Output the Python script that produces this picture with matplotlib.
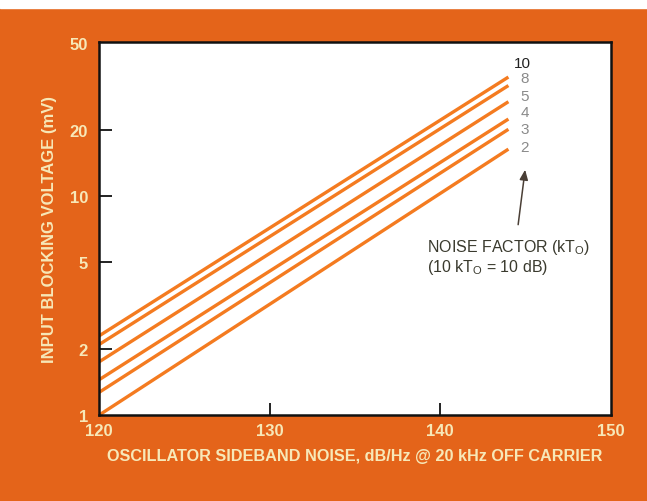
import numpy as np
import matplotlib
matplotlib.use("Agg")
import matplotlib.pyplot as plt

# noise factor curves: blocking voltage (mV) at the two ends of each line
noise_factor = ["10", "8", "5", "4", "3", "2"]
noise_db = [120, 144]
v_start = [2.3, 2.1, 1.75, 1.45, 1.27, 1.0]
v_end = [35.0, 32.0, 27.0, 22.5, 20.2, 16.4]

xticks = [120, 130, 140, 150]
yticks = [1, 2, 5, 10, 20, 50]

orange = "#e4641a"
line_col = "#f47b20"
cream = "#f7e8b8"

plt.rcParams["font.family"] = ["Liberation Sans", "DejaVu Sans"]
plt.rcParams["mathtext.fontset"] = "custom"
plt.rcParams["mathtext.rm"] = "Liberation Sans"

fig = plt.figure(figsize=(6.47, 5.02), dpi=100)
fig.patch.set_facecolor(orange)
# thin white strip along the top edge
fig.patches.append(plt.Rectangle((0, 0.983), 1, 0.017, transform=fig.transFigure,
                                 color="white", zorder=0))

ax = fig.add_axes([0.153, 0.171, 0.791, 0.743])
ax.set_facecolor("white")
ax.set_yscale("log")
ax.set_xlim(120, 150)
ax.set_ylim(1, 50.5)

for a, b in zip(v_start, v_end):
    ax.plot(noise_db, [a, b], color=line_col, lw=2.4, solid_capstyle="butt")

for sp in ax.spines.values():
    sp.set_linewidth(1.8)
    sp.set_color("#111111")

ax.set_xticks(xticks)
ax.set_xticklabels([str(t) for t in xticks])
ax.set_yticks(yticks)
ax.set_yticklabels([str(t) for t in yticks])
ax.yaxis.set_minor_locator(matplotlib.ticker.NullLocator())
ax.tick_params(direction="in", length=9, width=1.3, color="#111111",
               labelcolor=cream, labelsize=12)
ax.tick_params(axis="x", pad=6)
ax.tick_params(axis="y", pad=8)
for lbl in ax.get_xticklabels() + ax.get_yticklabels():
    lbl.set_fontweight("bold")
for t in (ax.xaxis.get_major_ticks()[0], ax.xaxis.get_major_ticks()[-1],
          ax.yaxis.get_major_ticks()[0], ax.yaxis.get_major_ticks()[-1]):
    t.tick1line.set_visible(False)

ax.set_xlabel("OSCILLATOR SIDEBAND NOISE, dB/Hz @ 20 kHz OFF CARRIER",
              color=cream, fontsize=11.7, fontweight="bold", labelpad=7)
ax.set_ylabel("INPUT BLOCKING VOLTAGE (mV)", color=cream, fontsize=12,
              fontweight="bold", labelpad=9)

# curve labels stacked beside the line ends
label_x = [144.8, 144.95, 144.95, 144.95, 144.95, 144.95]
label_y = [40.5, 34.6, 28.7, 24.2, 20.2, 16.7]
for i, (lab, xx, yy) in enumerate(zip(noise_factor, label_x, label_y)):
    ax.text(xx, yy, lab, color="#222222" if i == 0 else "#8a8a8a",
            fontsize=11, ha="center", va="center")

ax.annotate("", xy=(145.0, 13.6), xytext=(144.55, 7.2),
            arrowprops=dict(arrowstyle="-|>,head_width=0.25,head_length=0.6",
                            color="#4a3f36", lw=1.1))
ax.text(139.2, 5.3,
        "NOISE FACTOR (kT$_\\mathregular{O}$)\n(10 kT$_\\mathregular{O}$ = 10 dB)",
        color="#3a3a2e", fontsize=11.5, ha="left", va="center",
        linespacing=1.05)

fig.savefig("out.png", dpi=100, facecolor=fig.get_facecolor())
